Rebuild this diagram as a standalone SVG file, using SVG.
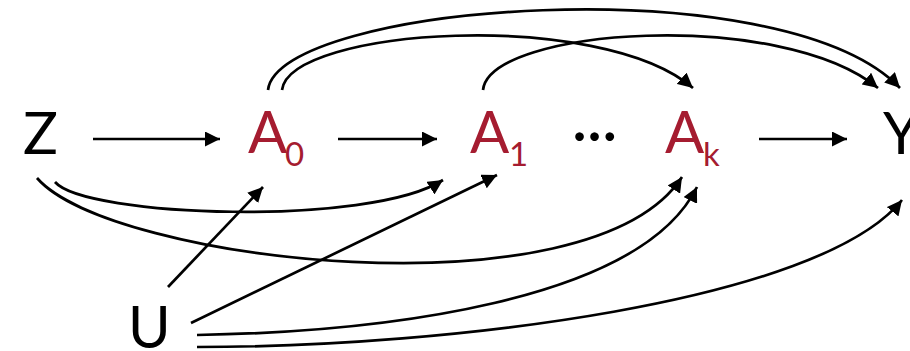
<svg xmlns="http://www.w3.org/2000/svg" width="910" height="351" viewBox="0 0 910 351">
<style>
.lbl{font-family:"Lato","Open Sans",sans-serif;font-size:58px;fill:#000}
.red{fill:#A51C30}
.sub{font-size:33px}
.edge{fill:none;stroke:#000;stroke-width:2.7;marker-end:url(#ah)}
</style>
<defs>
<marker id="ah" markerUnits="userSpaceOnUse" markerWidth="16" markerHeight="15" refX="15" refY="7.5" orient="auto">
<path d="M0,0 L15,7.5 L0,15 z" fill="#000"/>
</marker>
</defs>
<g id="connectors">
<path class="edge" d="M93,139 L220,139"/>
<path class="edge" d="M338,139 L437,139"/>
<path class="edge" d="M759,139 L847,139"/>
<path class="edge" d="M268,90 C278,4 780,-36 900,88"/>
<path class="edge" d="M282,90 C290,28 600,8 693,88"/>
<path class="edge" d="M483,90 C490,28 780,8 878,88"/>
<path class="edge" d="M55,182 C85,217 370,227 443,180"/>
<path class="edge" d="M37,178 C110,262 590,318 682,177"/>
<path class="edge" d="M168,287 L263,187"/>
<path class="edge" d="M191,323 L497,175"/>
<path class="edge" d="M197,335 C380,332 640,302 697,187"/>
<path class="edge" d="M197,347 C450,347 820,302 902,200"/>
</g>
<g id="Z"><text class="lbl" x="23" y="154">Z</text></g>
<g id="A0"><text class="lbl red" x="248" y="153">A</text><text class="lbl red sub" x="285" y="166">0</text></g>
<g id="A1"><text class="lbl red" x="470" y="153">A</text><text class="lbl red sub" x="509" y="166">1</text></g>
<g id="dots"><text class="lbl" x="572" y="154">···</text></g>
<g id="Ak"><text class="lbl red" x="665" y="153">A</text><text class="lbl red sub" x="703" y="166">k</text></g>
<g id="Y"><text class="lbl" x="883" y="154">Y</text></g>
<g id="U"><text class="lbl" x="128" y="348">U</text></g>
</svg>
